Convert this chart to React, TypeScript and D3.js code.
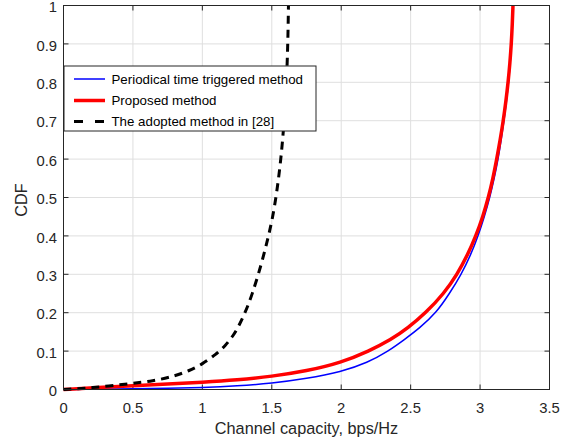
import React from "react";
import * as d3 from "d3";

const xTicks = [0, 0.5, 1, 1.5, 2, 2.5, 3, 3.5];
const yTicks = [0, 0.1, 0.2, 0.3, 0.4, 0.5, 0.6, 0.7, 0.8, 0.9, 1];

const blueX = [0, 0.25, 0.5, 0.75, 1.0, 1.25, 1.5, 1.75, 2.0, 2.19, 2.34, 2.455, 2.565, 2.685, 2.78, 2.865, 2.932, 2.986, 3.031, 3.07, 3.102, 3.13, 3.152, 3.172, 3.19, 3.205, 3.217, 3.226, 3.233, 3.238];
const blueY = [0, 0.001, 0.002, 0.003, 0.005, 0.009, 0.016, 0.028, 0.046, 0.07, 0.1, 0.13, 0.16, 0.2, 0.25, 0.3, 0.35, 0.4, 0.45, 0.5, 0.55, 0.6, 0.65, 0.7, 0.75, 0.8, 0.85, 0.9, 0.95, 1.0];

const redX = [0, 0.25, 0.5, 0.75, 1.0, 1.25, 1.5, 1.75, 2.0, 2.2, 2.36, 2.48, 2.61, 2.74, 2.835, 2.91, 2.97, 3.02, 3.06, 3.093, 3.12, 3.145, 3.167, 3.186, 3.202, 3.215, 3.225, 3.232, 3.237];
const redY = [0, 0.005, 0.01, 0.014, 0.019, 0.025, 0.034, 0.048, 0.07, 0.1, 0.13, 0.16, 0.2, 0.25, 0.3, 0.35, 0.4, 0.45, 0.5, 0.55, 0.6, 0.65, 0.7, 0.75, 0.8, 0.85, 0.9, 0.95, 1.0];

const blackX = [0, 0.2, 0.45, 0.65, 0.8, 0.9, 1.0, 1.1, 1.168, 1.222, 1.262, 1.295, 1.33, 1.36, 1.395, 1.427, 1.456, 1.483, 1.507, 1.53, 1.549, 1.565, 1.578, 1.589, 1.598, 1.605, 1.611, 1.615, 1.618, 1.62];
const blackY = [0, 0.004, 0.014, 0.022, 0.035, 0.048, 0.066, 0.092, 0.115, 0.14, 0.165, 0.19, 0.22, 0.25, 0.29, 0.33, 0.37, 0.41, 0.45, 0.5, 0.55, 0.6, 0.65, 0.7, 0.75, 0.8, 0.85, 0.9, 0.95, 1.0];

const legendLabels = ["Periodical time triggered method", "Proposed method", "The adopted method in [28]"];
const xLabel = "Channel capacity, bps/Hz";
const yLabel = "CDF";

const W = 575;
const H = 440;
const L = 63.5, R = 549.5, T = 5.5, B = 389.5;
const FONT = "'Liberation Sans', Arial, Helvetica, sans-serif";
const AX = "#262626";

export default function App() {
  const x = d3.scaleLinear().domain([0, 3.5]).range([L, R]);
  const y = d3.scaleLinear().domain([0, 1]).range([B, T]);
  const line = d3.line<[number, number]>().x(d => x(d[0])).y(d => y(d[1])).curve(d3.curveBasis);
  const zip = (a: number[], b: number[]) => a.map((v, i) => [v, b[i]] as [number, number]);

  const series = [
    { d: zip(blueX, blueY), color: "#0000ff", w: 1.5, dash: undefined as string | undefined },
    { d: zip(redX, redY), color: "#ff0000", w: 3.5, dash: undefined },
    { d: zip(blackX, blackY), color: "#000000", w: 3, dash: "8,6" },
  ];
  const legendDash = [undefined, undefined, "9,12"];

  const lgX = 64, lgY = 66, lgW = 252, lgH = 65;
  const rows = [79, 100.5, 121.5];
  const tl = 5;

  return (
    <svg width={W} height={H} style={{ position: "absolute", left: 0, top: 0, background: "#fff" }} fontFamily={FONT}>
      <rect x={0} y={0} width={W} height={H} fill="#fff" />
      {xTicks.map(t => (
        <line key={"gx" + t} x1={x(t)} x2={x(t)} y1={T} y2={B} stroke="#dfdfdf" strokeWidth={1} />
      ))}
      {yTicks.map(t => (
        <line key={"gy" + t} x1={L} x2={R} y1={y(t)} y2={y(t)} stroke="#dfdfdf" strokeWidth={1} />
      ))}
      {xTicks.map(t => (
        <g key={"tx" + t}>
          <line x1={x(t)} x2={x(t)} y1={B} y2={B - tl} stroke={AX} />
          <line x1={x(t)} x2={x(t)} y1={T} y2={T + tl} stroke={AX} />
          <text x={x(t)} y={413} textAnchor="middle" fontSize={14.8} fill={AX}>{String(t)}</text>
        </g>
      ))}
      {yTicks.map(t => (
        <g key={"ty" + t}>
          <line x1={L} x2={L + tl} y1={y(t)} y2={y(t)} stroke={AX} />
          <line x1={R} x2={R - tl} y1={y(t)} y2={y(t)} stroke={AX} />
          <text x={57} y={y(t)} dy="0.45em" textAnchor="end" fontSize={14.8} fill={AX}>{String(t)}</text>
        </g>
      ))}
      {series.map((s, i) => (
        <path key={"s" + i} d={line(s.d) || ""} fill="none" stroke={s.color} strokeWidth={s.w} strokeDasharray={s.dash} />
      ))}
      <rect x={L} y={T} width={R - L} height={B - T} fill="none" stroke={AX} strokeWidth={1} />
      <text x={(L + R) / 2} y={433.5} textAnchor="middle" fontSize={16.3} fill={AX}>{xLabel}</text>
      <text transform={`translate(27,200) rotate(-90)`} textAnchor="middle" fontSize={16.3} fill={AX}>{yLabel}</text>
      <rect x={lgX} y={lgY} width={lgW} height={lgH} fill="#fff" stroke={AX} strokeWidth={1} />
      {series.map((s, i) => (
        <g key={"lg" + i}>
          <line x1={74} x2={105} y1={rows[i]} y2={rows[i]} stroke={s.color} strokeWidth={s.w} strokeDasharray={legendDash[i]} />
          <text x={111.5} y={rows[i]} dy="0.35em" fontSize={13.3} fill="#000">{legendLabels[i]}</text>
        </g>
      ))}
    </svg>
  );
}
